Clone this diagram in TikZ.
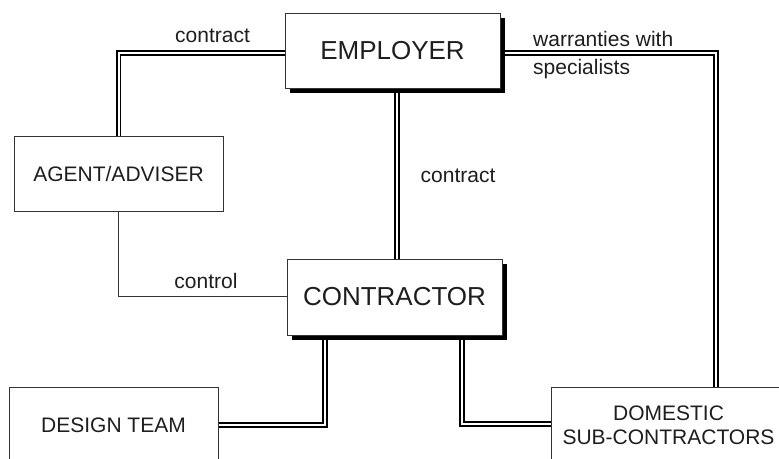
\documentclass[tikz,border=0pt]{standalone}
\usepackage{fontspec}
\setmainfont{Liberation Sans}
\usetikzlibrary{shadows,backgrounds}
\definecolor{ink}{HTML}{1E1E1E}
\definecolor{edge}{HTML}{333333}
\tikzset{
  box/.style={draw=edge, line width=1pt, fill=white, text=ink, inner sep=0pt, align=center},
  bigbox/.style={box, font=\fontsize{26}{30}\selectfont,
     drop shadow={shadow xshift=5pt, shadow yshift=-4.5pt, fill=black, opacity=1}},
  smallbox/.style={box, font=\fontsize{21}{24}\selectfont},
  dbl/.style={draw=black, line width=1.7pt, double=white, double distance=2pt},
  sgl/.style={draw=edge, line width=1pt},
  lbl/.style={text=ink, inner sep=0pt, font=\fontsize{21}{24}\selectfont}
}
\begin{document}
\begin{tikzpicture}[x=1pt, y=-1pt]
\useasboundingbox (0,0) rectangle (779,458);
\clip (0,0) rectangle (779,458);
% boxes
\node[bigbox, minimum width=215pt, minimum height=75pt] (emp) at (392.5,50.5) {EMPLOYER};
\node[bigbox, minimum width=215pt, minimum height=76pt] (con) at (394.5,297) {CONTRACTOR};
\node[smallbox, minimum width=209pt, minimum height=75pt] (agent) at (118.5,173.5) {AGENT/ADVISER};
\node[smallbox, minimum width=209pt, minimum height=76pt] (design) at (113.5,425) {DESIGN TEAM};
\node[smallbox, minimum width=235pt, minimum height=76pt] (dom) at (668.5,425) {DOMESTIC\\SUB-CONTRACTORS};
% connectors
\begin{scope}[on background layer]
\fill[white] (0,0) rectangle (779,458);
\draw[dbl] ([yshift=-2.5pt]emp.west) -| (agent.north);
\draw[dbl] ([xshift=4.5pt]emp.south) -- ([xshift=2.5pt]con.north);
\draw[dbl] ([yshift=-2.5pt]emp.east) -| ([xshift=47.5pt]dom.north);
\draw[sgl] (agent.south) |- ([yshift=1pt]con.west);
\draw[dbl] ([xshift=-69.5pt]con.south) |- (design.east);
\draw[dbl] ([xshift=67.5pt]con.south) |- ([yshift=1pt]dom.west);
\end{scope}
% labels
\node[lbl, anchor=base] (l1) at (212.5,42) {contract};
\node[lbl, anchor=base] (l2) at (458,182) {contract};
\node[lbl, anchor=base west] (l3) at (533,46) {warranties with};
\node[lbl, anchor=base west] (l4) at (533,74) {specialists};
\node[lbl, anchor=base] (l5) at (206,288) {control};
\end{tikzpicture}
\end{document}
